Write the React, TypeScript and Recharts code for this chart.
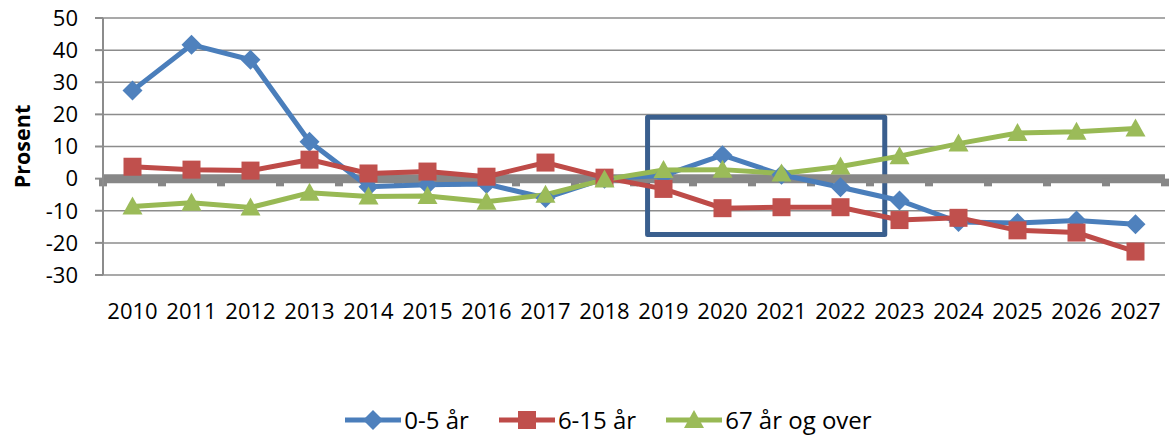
import React from 'react';
import {
  LineChart, Line, XAxis, YAxis, CartesianGrid, ReferenceLine, ReferenceArea, Legend,
} from 'recharts';

const years = [2010, 2011, 2012, 2013, 2014, 2015, 2016, 2017, 2018, 2019, 2020, 2021, 2022, 2023, 2024, 2025, 2026, 2027];
const age0to5 = [27.4, 41.7, 37.0, 11.5, -2.5, -1.9, -1.7, -6.0, 0.0, 1.0, 7.3, 1.2, -2.7, -6.8, -13.5, -13.8, -13.0, -14.2];
const age6to15 = [3.7, 2.8, 2.5, 5.9, 1.6, 2.2, 0.6, 5.0, 0.3, -3.2, -9.2, -8.9, -8.9, -12.9, -12.2, -16.1, -16.8, -22.7];
const age67plus = [-8.7, -7.5, -9.0, -4.4, -5.6, -5.4, -7.2, -5.0, -0.3, 2.7, 2.8, 1.6, 3.8, 7.0, 10.9, 14.2, 14.6, 15.6];
const seriesNames = ['0-5 år', '6-15 år', '67 år og over'];
const yTicks = [-30, -20, -10, 0, 10, 20, 30, 40, 50];
const highlightBox = { x1: 2018.73, x2: 2022.75, y1: -17.4, y2: 19.1 };

const data = years.map((year, i) => ({
  year,
  a: age0to5[i],
  b: age6to15[i],
  c: age67plus[i],
}));

const boundaries = [...years.map((y) => y - 0.5), years[years.length - 1] + 0.5];

const COLORS = ['#4A7EBB', '#BE4B48', '#98B954'];
const MARKERS = ['#4F81BD', '#C0504D', '#9BBB59'];
const FONT = '"Open Sans", sans-serif';

const Diamond = ({ cx, cy, fill }: any) => (
  <path d={`M${cx},${cy - 10}L${cx + 10},${cy}L${cx},${cy + 10}L${cx - 10},${cy}Z`} fill={fill} />
);
const Square = ({ cx, cy, fill }: any) => (
  <rect x={cx - 9} y={cy - 9} width={18} height={18} fill={fill} />
);
const Triangle = ({ cx, cy, fill }: any) => (
  <path d={`M${cx},${cy - 10}L${cx + 10},${cy + 8}L${cx - 10},${cy + 8}Z`} fill={fill} />
);
const SHAPES = [Diamond, Square, Triangle];

const makeDot = (idx: number) => (props: any) => {
  const S = SHAPES[idx];
  if (props.cx == null || props.cy == null) return <g key={props.key} />;
  return <S key={props.key} cx={props.cx} cy={props.cy} fill={MARKERS[idx]} />;
};

const renderLegend = () => (
  <div
    style={{
      display: 'flex',
      justifyContent: 'center',
      alignItems: 'center',
      height: 30,
      paddingLeft: 52,
      fontFamily: FONT,
      fontSize: 24,
      color: '#000',
    }}
  >
    {seriesNames.map((name, idx) => {
      const S = SHAPES[idx];
      return (
        <div key={name} style={{ display: 'flex', alignItems: 'center', marginRight: idx < 2 ? 30 : 0 }}>
          <svg width={56} height={24} style={{ display: 'block' }}>
            <line x1={0} y1={12} x2={56} y2={12} stroke={COLORS[idx]} strokeWidth={5} strokeLinecap="round" />
            <S cx={28} cy={12} fill={MARKERS[idx]} />
          </svg>
          <span style={{ marginLeft: 3, lineHeight: '30px' }}>{name}</span>
        </div>
      );
    })}
  </div>
);

const YLabel = ({ viewBox }: any) => {
  const x = 21;
  const y = viewBox.y + viewBox.height / 2;
  return (
    <text
      x={x}
      y={y}
      transform={`rotate(-90, ${x}, ${y})`}
      textAnchor="middle"
      dominantBaseline="central"
      fontFamily={FONT}
      fontWeight="bold"
      fontSize={21.5}
      fill="#000"
    >
      Prosent
    </text>
  );
};

export default function App() {
  return (
    <div style={{ position: 'absolute', left: 0, top: 0, background: '#fff' }}>
      <LineChart
        width={1175}
        height={436}
        data={data}
        margin={{ top: 18, right: 10, bottom: 1, left: 0 }}
      >
        <CartesianGrid horizontal vertical={false} stroke="#8C8C8C" strokeWidth={1.5} />
        <XAxis
          dataKey="year"
          type="number"
          domain={[2009.5, 2027.5]}
          ticks={years}
          interval={0}
          height={130}
          axisLine={false}
          tickLine={false}
          tickSize={8}
          tickMargin={20}
          tick={{ fill: '#000', fontSize: 22, fontFamily: FONT }}
        />
        <YAxis
          type="number"
          domain={[-30, 50]}
          ticks={yTicks}
          interval={0}
          width={103}
          axisLine={{ stroke: '#8C8C8C', strokeWidth: 2 }}
          tickLine={{ stroke: '#8C8C8C', strokeWidth: 2 }}
          tickSize={8}
          tickMargin={17}
          tick={{ fill: '#000', fontSize: 22, fontFamily: FONT }}
          label={<YLabel />}
        />
        <ReferenceLine y={0} stroke="#878787" strokeWidth={9} ifOverflow="visible" />
        {boundaries.map((b) => (
          <ReferenceLine
            key={b}
            segment={[{ x: b, y: 0 }, { x: b, y: -2.4 }]}
            stroke="#878787"
            strokeWidth={8}
            ifOverflow="visible"
          />
        ))}
        <Line
          dataKey="a"
          name={seriesNames[0]}
          stroke={COLORS[0]}
          strokeWidth={5}
          dot={makeDot(0)}
          activeDot={false}
          isAnimationActive={false}
        />
        <Line
          dataKey="b"
          name={seriesNames[1]}
          stroke={COLORS[1]}
          strokeWidth={5}
          dot={makeDot(1)}
          activeDot={false}
          isAnimationActive={false}
        />
        <Line
          dataKey="c"
          name={seriesNames[2]}
          stroke={COLORS[2]}
          strokeWidth={5}
          dot={makeDot(2)}
          activeDot={false}
          isAnimationActive={false}
        />
        <ReferenceArea
          x1={highlightBox.x1}
          x2={highlightBox.x2}
          y1={highlightBox.y1}
          y2={highlightBox.y2}
          fill="none"
          fillOpacity={0}
          stroke="#3A5F8E"
          strokeWidth={5}
          strokeLinejoin="round"
          ifOverflow="visible"
        />
        <Legend verticalAlign="bottom" content={renderLegend} />
      </LineChart>
    </div>
  );
}
